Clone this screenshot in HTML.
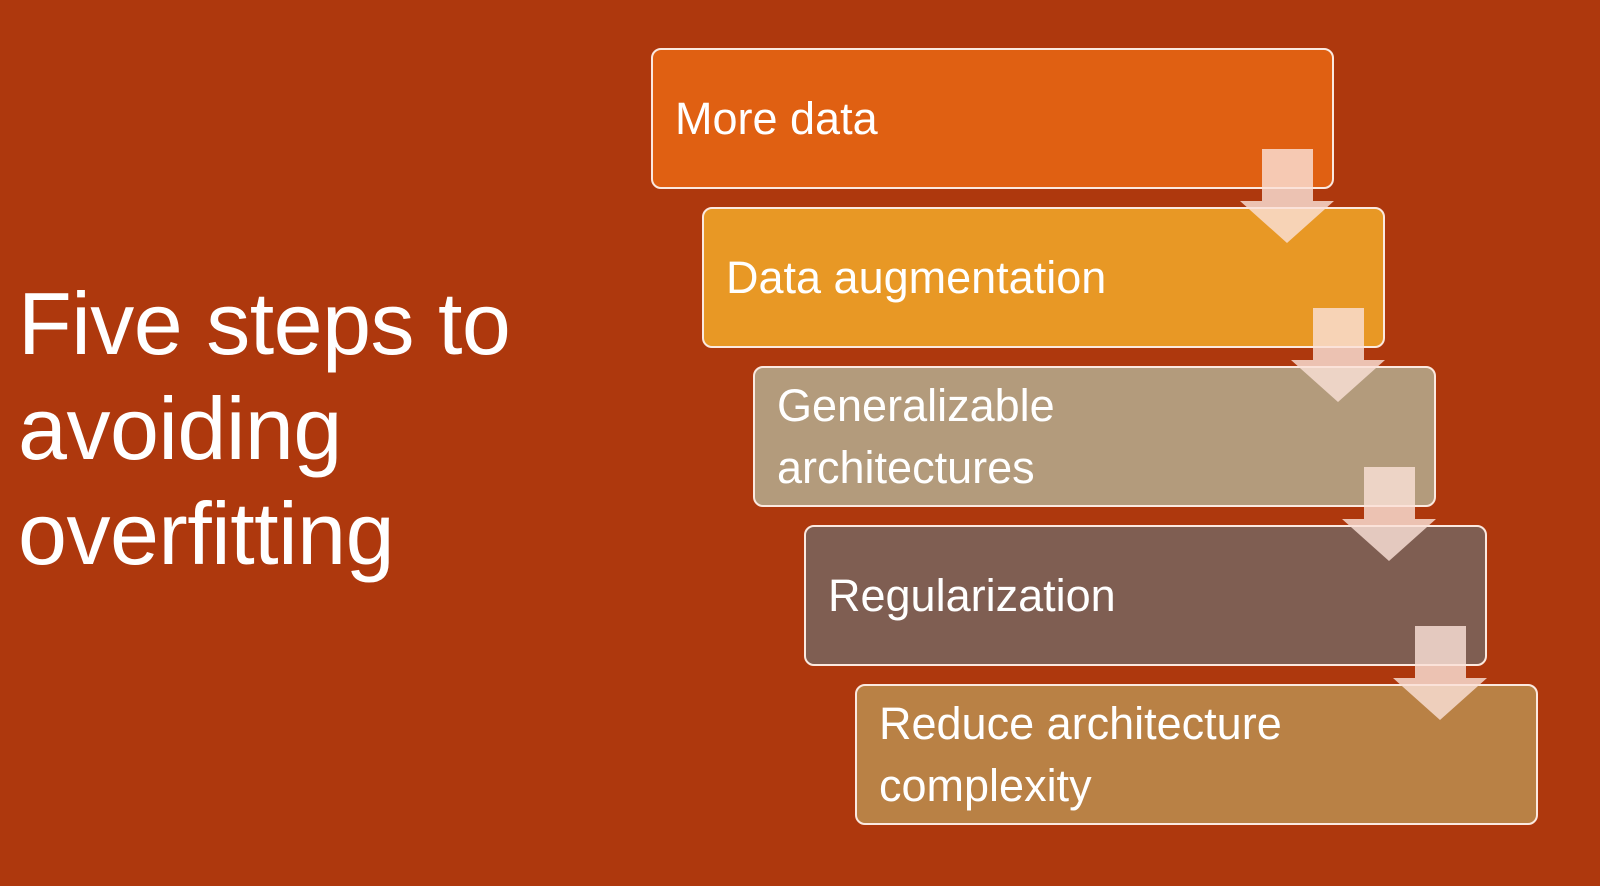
<!DOCTYPE html>
<html><head><style>
html,body{margin:0;padding:0}
body{width:1600px;height:886px;background:#AE380D;position:relative;overflow:hidden;font-family:"Liberation Sans",sans-serif;color:#fff}
.t{position:absolute;left:18px;font-size:88px;line-height:1;letter-spacing:-0.5px}
.b{position:absolute;width:683px;height:141px;border:2px solid #fbe9e0;border-radius:10px;box-sizing:border-box;display:flex;align-items:center;padding-left:22px;font-size:45px;line-height:62px}
svg{position:absolute;left:0;top:0}
</style></head><body>
<div class="t" style="top:280px">Five steps to</div>
<div class="t" style="top:385px">avoiding</div>
<div class="t" style="top:490px">overfitting</div>
<div class="b" style="left:651px;top:48px;background:#E06012">More data</div>
<div class="b" style="left:702px;top:207px;background:#E89825">Data augmentation</div>
<div class="b" style="left:753px;top:366px;background:#B39B7C">Generalizable<br>architectures</div>
<div class="b" style="left:804px;top:525px;background:#7F5E52">Regularization</div>
<div class="b" style="left:855px;top:684px;background:#B98145">Reduce architecture<br>complexity</div>
<svg width="1600" height="886">
<g fill="rgba(250,225,215,0.82)">
<polygon points="1262,149 1313,149 1313,201 1334,201 1287,243 1240,201 1262,201"/>
<polygon points="1313,308 1364,308 1364,360 1385,360 1338,402 1291,360 1313,360"/>
<polygon points="1364,467 1415,467 1415,519 1436,519 1389,561 1342,519 1364,519"/>
<polygon points="1415,626 1466,626 1466,678 1487,678 1440,720 1393,678 1415,678"/>
</g>
</svg>
</body></html>
